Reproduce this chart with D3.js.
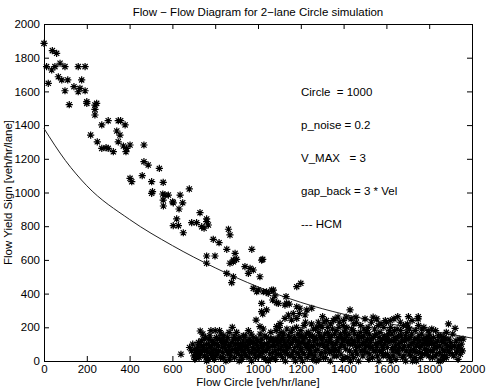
<!DOCTYPE html>
<html lang="en">
<head>
  <meta charset="UTF-8">
  <title>Flow - Flow Diagram</title>
  <script src="https://d3js.org/d3.v7.min.js"></script>
  <style>
    body {
      margin: 0;
      padding: 0;
      background: #fff;
    }
    text {
      font-family: "Liberation Sans", Arial, Helvetica, sans-serif;
      font-size: 11.5px;
      fill: #000;
      white-space: pre;
    }
  </style>
</head>
<body>
  <script>
    // simulated points: [flow circle, flow yield sign]
    const upperBranch = [
      [0,1885],[39,1842],[59,1826],[12,1747],[20,1648],[36,1727],[51,1747],[75,1767],[98,1747],[160,1747],
      [192,1747],[67,1687],[83,1668],[111,1668],[176,1668],[98,1604],[140,1628],[160,1598],[168,1618],[192,1604],
      [118,1521],[200,1539],[200,1529],[238,1519],[246,1529],[238,1493],[238,1460],[270,1401],[300,1426],[347,1426],
      [358,1426],[379,1401],[218,1341],[249,1301],[270,1262],[290,1266],[300,1262],[324,1242],[340,1365],[355,1341],
      [347,1301],[371,1276],[386,1262],[383,1242],[402,1282],[467,1282],[467,1183],[487,1163],[539,1143],[402,1084],
      [410,1064],[459,1100],[503,1064],[557,1060],[503,995],[507,1005],[555,991],[557,955],[565,985],[581,985],
      [604,939],[636,985],[648,939],[631,902],[679,1021],[729,880],[620,843],[760,843],[558,920],[601,945],
      [604,803],[628,803],[651,761],[690,821],[713,821],[737,797],[748,788],[760,827],[768,807],[760,623],
      [760,580],[791,722],[818,702],[799,623],[854,663],[862,782],[869,748],[854,520],[877,465],[885,500],
      [885,589],[893,639],[900,603],[939,560],[963,550],[955,520],[971,663],[1022,603],[1009,500],[978,431],
      [1001,421],[1025,411],[1048,401],[1072,421],[1079,386],[1017,599],[869,580],[885,599],[978,540],[994,411],
      [1040,411],[1064,421],[1181,441],[1200,461],[1068,362],[1095,342],[1134,342],[1131,382],[1017,342],[1040,303],
      [1017,293],[991,243],[1009,204],[1087,204],[1126,253],[1142,273],[1165,282],[1157,243],[1181,253],[1196,313],
      [1228,303],[1251,313],[1220,273],[1022,279],[1103,223],[1193,282],[1087,346],[1126,332],[1146,338],[1181,322],
      [1430,303],[1374,261],[1653,263],[1703,263],[1749,263],[1890,220],[1921,194],[1302,263]
    ];

    const lowerCluster = [
      [640,40],[680,80],[690,60],[700,30],[695,100],[710,50],[705,10],[720,90],[715,70],
      [725,20],[730,178],[735,120],[740,60],[745,90],[750,30],[755,140],[760,100],[765,50],[770,10],[775,80],
      [780,180],[785,120],[790,40],[795,70],[760,0],[742,160],[775,150],[798,100],[788,20],
      [800,180],[805,60],[810,130],[815,90],[820,180],[825,20],[830,110],[835,50],[840,150],[845,80],[850,0],
      [855,120],[860,40],[865,170],[870,95],[875,60],[880,200],[885,130],[890,20],[895,75],[812,40],[828,160],
      [848,100],[868,10],[888,150],[898,50],
      [900,170],[905,100],[910,40],[915,140],[920,70],[925,10],[930,120],[935,60],[940,150],[945,30],[950,90],
      [955,180],[960,50],[965,110],[970,0],[975,80],[980,140],[985,40],[990,100],[995,60],[918,100],[942,90],
      [968,160],[988,20],[912,0],
      [1000,120],[1005,30],[1010,160],[1015,80],[1020,50],[1025,190],[1030,100],[1035,10],[1040,140],[1045,70],
      [1050,110],[1055,40],[1060,170],[1065,90],[1070,20],[1075,130],[1080,60],[1085,180],[1090,100],[1095,40],
      [1012,110],[1038,60],[1062,130],[1082,10],[1098,150],[1048,0],
      [1100,200],[1105,70],[1110,130],[1115,20],[1120,160],[1125,100],[1130,50],[1135,190],[1140,120],[1145,80],
      [1150,30],[1155,170],[1160,110],[1165,60],[1170,140],[1175,0],[1180,200],[1185,90],[1190,40],[1195,150],
      [1108,170],[1128,0],[1148,140],[1168,20],[1188,120],[1198,70],[1112,90],[1162,190],
      [1200,180],[1205,110],[1210,50],[1215,210],[1220,140],[1225,80],[1230,20],[1235,170],[1240,120],[1245,60],
      [1250,220],[1255,150],[1260,90],[1265,30],[1270,190],[1275,130],[1280,70],[1285,10],[1290,210],[1295,100],
      [1208,0],[1222,230],[1238,40],[1258,190],[1272,0],[1288,150],[1298,50],[1218,100],[1262,120],[1282,230],
      [1300,200],[1305,140],[1310,80],[1315,20],[1320,240],[1325,170],[1330,110],[1335,50],[1340,220],[1345,150],
      [1350,90],[1355,30],[1360,250],[1365,180],[1370,120],[1375,60],[1380,230],[1385,160],[1390,100],[1395,10],
      [1308,230],[1318,120],[1338,0],[1348,190],[1362,70],[1378,200],[1392,140],[1328,70],[1398,210],[1352,240],
      [1400,240],[1405,130],[1410,70],[1415,200],[1420,20],[1425,160],[1430,100],[1435,250],[1440,40],[1445,180],
      [1450,120],[1455,60],[1460,230],[1465,150],[1470,0],[1475,90],[1480,210],[1485,140],[1490,30],[1495,190],
      [1408,190],[1418,110],[1432,0],[1448,220],[1462,80],[1478,170],[1492,110],[1412,260],[1458,260],[1498,60],
      [1500,250],[1505,120],[1510,50],[1515,200],[1520,160],[1525,80],[1530,230],[1535,20],[1540,140],[1545,190],
      [1550,60],[1555,250],[1560,110],[1565,0],[1570,170],[1575,220],[1580,90],[1585,30],[1590,150],[1595,240],
      [1508,180],[1518,10],[1528,130],[1548,100],[1562,210],[1578,50],[1598,120],[1538,260],[1588,200],[1552,160],
      [1600,230],[1605,80],[1610,160],[1615,20],[1620,200],[1625,120],[1630,60],[1635,250],[1640,140],[1645,10],
      [1650,190],[1655,100],[1660,40],[1665,230],[1670,150],[1675,70],[1680,210],[1685,120],[1690,0],[1695,170],
      [1608,120],[1622,0],[1638,180],[1652,60],[1668,110],[1682,30],[1698,220],[1618,240],[1642,90],[1688,150],
      [1700,200],[1705,90],[1710,140],[1715,30],[1720,240],[1725,110],[1730,60],[1735,180],[1740,0],[1745,130],
      [1750,210],[1755,80],[1760,20],[1765,160],[1770,100],[1775,200],[1780,40],[1785,140],[1790,70],[1795,180],
      [1708,190],[1722,0],[1738,90],[1752,150],[1768,40],[1782,110],[1798,30],[1712,60],[1748,250],[1792,120],
      [1800,160],[1805,60],[1810,110],[1815,20],[1820,140],[1825,80],[1830,180],[1835,40],[1840,120],[1845,0],
      [1850,90],[1855,150],[1860,30],[1865,110],[1870,60],[1875,130],[1880,20],[1885,90],[1895,50],[1900,110],
      [1905,80],[1910,160],[1915,30],[1925,120],[1930,70],[1940,130],[1945,40],[1950,100],[1958,130],[1935,10],
      [1880,170],[1812,190],[1852,0]
    ];

    // the dense core of the cluster, below about 200
    const lowerCore = [
      [702,70],[712,20],[722,110],[732,40],[738,90],[748,130],[752,60],[758,20],[768,100],[772,130],
      [778,40],[782,90],[792,110],[796,10],[718,40],[728,60],[762,70],[786,60],
      [802,30],[808,100],[818,60],[822,130],[832,80],[838,20],[842,110],[852,60],[858,140],[862,90],
      [872,30],[878,110],[882,70],[892,100],[896,130],[806,140],[836,130],[866,60],
      [902,60],[908,130],[914,80],[922,30],[928,90],[932,150],[938,40],[948,120],[952,70],[958,20],
      [962,130],[972,50],[978,110],[982,70],[992,130],[998,90],[926,60],[956,100],
      [1002,70],[1008,40],[1018,130],[1022,90],[1028,20],[1032,150],[1042,100],[1052,80],[1058,130],[1068,50],
      [1072,110],[1078,90],[1088,40],[1092,130],[1096,70],[1026,60],[1056,10],[1086,120],
      [1102,110],[1118,60],[1122,120],[1132,90],[1138,40],[1142,150],[1152,100],[1158,40],[1172,80],[1178,120],
      [1182,50],[1192,100],[1196,20],[1116,140],[1136,70],[1166,130],[1186,160],[1106,40],
      [1202,70],[1212,130],[1216,40],[1226,160],[1232,100],[1242,150],[1248,90],[1252,40],[1266,140],[1268,60],
      [1278,100],[1284,170],[1292,40],[1296,130],[1204,150],[1236,70],[1256,10],[1276,200],
      [1302,100],[1312,160],[1316,50],[1322,90],[1332,150],[1336,130],[1342,60],[1346,110],[1358,160],[1364,100],
      [1368,30],[1374,140],[1382,80],[1388,40],[1396,120],[1306,20],[1326,200],[1356,60],
      [1402,90],[1406,20],[1414,150],[1422,120],[1428,60],[1436,130],[1442,100],[1446,20],[1452,160],[1456,90],
      [1464,40],[1468,120],[1474,140],[1482,60],[1488,100],[1494,150],[1404,170],[1438,190],
      [1502,90],[1506,170],[1512,130],[1522,40],[1526,110],[1532,80],[1542,60],[1546,150],[1556,90],[1558,30],
      [1566,140],[1572,110],[1582,130],[1586,70],[1592,100],[1596,40],[1516,90],[1568,60],
      [1602,140],[1606,40],[1612,110],[1626,160],[1628,80],[1632,30],[1636,120],[1646,130],[1648,60],[1656,150],
      [1662,80],[1672,120],[1676,20],[1684,90],[1692,60],[1696,130],[1614,180],[1666,180],
      [1702,130],[1706,40],[1716,100],[1718,160],[1726,70],[1732,130],[1742,50],[1744,100],[1756,120],[1758,50],
      [1762,90],[1772,130],[1778,70],[1786,100],[1788,50],[1796,140],[1734,20],[1766,190],
      [1802,100],[1808,130],[1818,60],[1822,100],[1828,30],[1838,80],[1842,150],[1848,50],[1858,120],[1862,70],
      [1868,140],[1872,30],[1878,100],[1888,60],[1892,130],[1898,80],[1908,40],[1918,90],[1928,50],[1938,90],
      [1948,70],[1955,60],[1832,110],[1866,10]
    ];

    // HCM capacity curve
    const hcmFlow  = [0, 100, 200, 400, 600, 800, 1000, 1200, 1400, 1600, 1800, 2000];
    const hcmYield = [1380, 1190, 1040, 840, 685, 553, 440, 348, 278, 224, 180, 136];

    const xTicks = [0, 200, 400, 600, 800, 1000, 1200, 1400, 1600, 1800, 2000];
    const yTicks = [0, 200, 400, 600, 800, 1000, 1200, 1400, 1600, 1800, 2000];

    const notes = ["Circle  = 1000", "p_noise = 0.2", "V_MAX   = 3", "gap_back = 3 * Vel", "--- HCM"];

    const W = 488, H = 391;
    const margin = { left: 44, right: 16, top: 24, bottom: 30 };

    const svg = d3.select("body").append("svg")
      .attr("width", W)
      .attr("height", H);

    const x = d3.scaleLinear().domain([0, 2000]).range([margin.left, W - margin.right]);
    const y = d3.scaleLinear().domain([0, 2000]).range([H - margin.bottom, margin.top]);

    // axes box with inward ticks, matlab style
    const tickLen = 5;
    const fmt = d3.format("d");
    svg.append("g")
      .attr("transform", `translate(0,${y(0)})`)
      .call(d3.axisBottom(x).tickValues(xTicks).tickFormat(fmt).tickSizeInner(-tickLen).tickSizeOuter(0).tickPadding(4));
    svg.append("g")
      .attr("transform", `translate(0,${y(2000)})`)
      .call(d3.axisTop(x).tickValues(xTicks).tickSizeInner(-tickLen).tickSizeOuter(0).tickFormat(""));
    svg.append("g")
      .attr("transform", `translate(${x(0)},0)`)
      .call(d3.axisLeft(y).tickValues(yTicks).tickFormat(fmt).tickSizeInner(-tickLen).tickSizeOuter(0).tickPadding(4));
    svg.append("g")
      .attr("transform", `translate(${x(2000)},0)`)
      .call(d3.axisRight(y).tickValues(yTicks).tickSizeInner(-tickLen).tickSizeOuter(0).tickFormat(""));

    svg.selectAll(".domain").attr("stroke", "#000");
    svg.selectAll(".tick line").attr("stroke", "#000");
    svg.selectAll(".tick text")
      .attr("font-family", null)
      .attr("font-size", null);

    // HCM curve
    const hcm = hcmFlow.map((f, i) => [f, hcmYield[i]]);
    svg.append("path")
      .datum(hcm)
      .attr("fill", "none")
      .attr("stroke", "#222")
      .attr("stroke-width", 1)
      .attr("d", d3.line().x(d => x(d[0])).y(d => y(d[1])).curve(d3.curveMonotoneX));

    // asterisk markers
    const r = 3.6, q = 2.6;
    const star = `M${-r},0H${r}M0,${-r}V${r}M${-q},${-q}L${q},${q}M${-q},${q}L${q},${-q}`;
    svg.append("g")
      .selectAll("path")
      .data(upperBranch.concat(lowerCluster, lowerCore))
      .join("path")
      .attr("transform", d => `translate(${x(d[0])},${y(d[1])})`)
      .attr("d", star)
      .attr("fill", "none")
      .attr("stroke", "#000")
      .attr("stroke-width", 1.2);

    // parameter notes
    svg.append("g")
      .selectAll("text")
      .data(notes)
      .join("text")
      .attr("x", 301)
      .attr("y", (d, i) => 96 + i * 33)
      .text(d => d);

    svg.append("text")
      .attr("x", (x(0) + x(2000)) / 2)
      .attr("y", 16)
      .attr("text-anchor", "middle")
      .text("Flow \u2212 Flow Diagram for 2\u2212lane Circle simulation");

    svg.append("text")
      .attr("x", (x(0) + x(2000)) / 2)
      .attr("y", 386)
      .attr("text-anchor", "middle")
      .text("Flow Circle [veh/hr/lane]");

    svg.append("text")
      .attr("transform", `translate(12,${(y(0) + y(2000)) / 2}) rotate(-90)`)
      .attr("text-anchor", "middle")
      .text("Flow Yield Sign [veh/hr/lane]");
  </script>
</body>
</html>
